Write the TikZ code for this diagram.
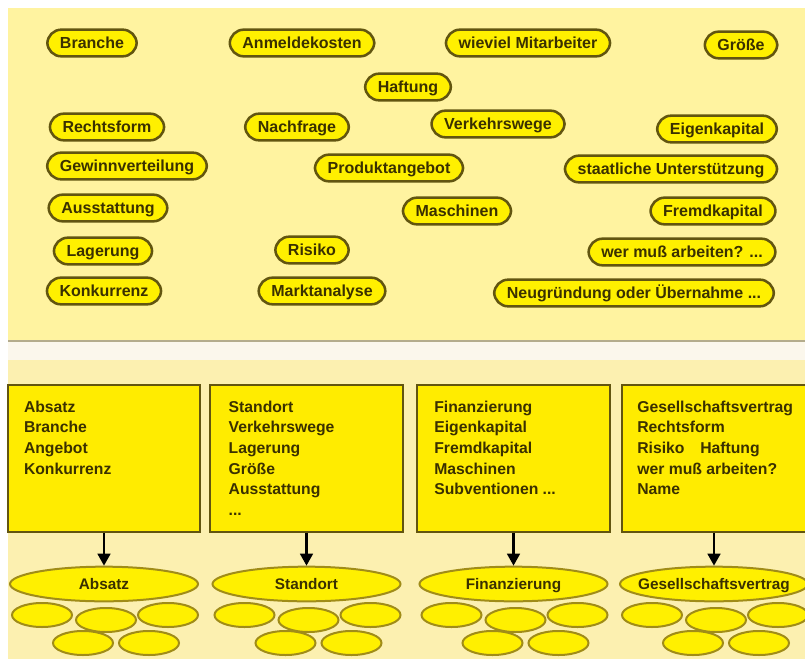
\documentclass[tikz,border=0pt]{standalone}
\usepackage{fontspec}
\setmainfont{Liberation Sans}
\usetikzlibrary{positioning,shapes.geometric,arrows.meta,calc}
\definecolor{paper}{HTML}{FFF3A0}
\definecolor{paperlow}{HTML}{FCF0B0}
\definecolor{band}{HTML}{FBF7EC}
\definecolor{rule}{HTML}{B4AC8C}
\definecolor{lemon}{HTML}{FFF000}
\definecolor{boxfill}{HTML}{FFEC00}
\definecolor{olive}{HTML}{625510}
\definecolor{rim}{HTML}{A08C18}
\definecolor{ink}{HTML}{3A3000}
\tikzset{
  pill/.style={draw=olive, line width=1.9pt, fill=lemon, rounded corners=10.5pt,
    minimum height=20pt, inner xsep=9.5pt, inner ysep=0pt, text=ink,
    text height=8.6pt, text depth=0pt,
    font=\bfseries\fontsize{12}{14}\selectfont},
  infobox/.style={draw=olive, line width=1.4pt, fill=boxfill, inner sep=0pt,
    minimum height=110.25pt},
  boxtext/.style={align=left, inner sep=0pt, text=ink,
    font=\bfseries\fontsize{11.8}{15.4}\selectfont},
  topic/.style={ellipse, draw=rim, line width=1.5pt, fill=lemon,
    minimum width=141pt, minimum height=26pt, inner sep=0pt, text=ink,
    text height=8.2pt, text depth=0pt,
    font=\bfseries\fontsize{11.5}{14}\selectfont},
  blob/.style={ellipse, draw=rim, line width=1.5pt, fill=lemon,
    minimum width=45pt, minimum height=18pt, inner sep=0pt},
  arr/.style={line width=1.9pt, -{Triangle[length=9pt,width=9.5pt]}}
}

\begin{document}
\begin{tikzpicture}[x=0.75pt, y=-0.75pt]
  %%%%% START %%%%%
  \useasboundingbox (0, 0) rectangle (805, 659);

  \fill[paper] (8, 8) rectangle (805, 340);
  \fill[band] (8, 342) rectangle (805, 360);
  \fill[paperlow] (8, 360) rectangle (805, 659);
  \draw[line width=1.5pt, color=rule] (8, 341) -- (805, 341);

  % keywords
  \node[pill] (branche) at (92, 43) {Branche};
  \node[pill] (anmeldung) at (302, 43) {Anmeldekosten};
  \node[pill] (mitarbeiter) at (528, 43) {wieviel Mitarbeiter};
  \node[pill] (groesse) at (741, 45) {Größe};
  \node[pill] (haftung) at (408, 87) {Haftung};
  \node[pill] (rechtsform) at (107, 127) {Rechtsform};
  \node[pill] (nachfrage) at (297, 127) {Nachfrage};
  \node[pill] (verkehr) at (498, 124) {Verkehrswege};
  \node[pill] (eigenkap) at (717, 129) {Eigenkapital};
  \node[pill] (gewinn) at (127, 166) {Gewinnverteilung};
  \node[pill] (produkt) at (389, 168) {Produktangebot};
  \node[pill] (staat) at (671, 169) {staatliche Unterstützung};
  \node[pill] (ausstattung) at (108, 208) {Ausstattung};
  \node[pill] (maschinen) at (457, 211) {Maschinen};
  \node[pill] (fremdkap) at (713, 211) {Fremdkapital};
  \node[pill] (lagerung) at (103, 251) {Lagerung};
  \node[pill] (risiko) at (312, 250) {Risiko};
  \node[pill] (arbeit) at (682, 252) {wer muß arbeiten? ...};
  \node[pill] (konkurrenz) at (104, 291) {Konkurrenz};
  \node[pill] (markt) at (322, 291) {Marktanalyse};
  \node[pill] (neu) at (634, 293) {Neugründung oder Übernahme ...};

  % boxes
  \node[infobox, minimum width=144pt] (box1) at (104, 458.5) {};
  \node[infobox, minimum width=144.75pt] (box2) at (306.5, 458.5) {};
  \node[infobox, minimum width=144.75pt] (box3) at (513.5, 458.5) {};
  \node[infobox, minimum width=138pt] (box4) at (714, 458.5) {};

  \node[boxtext, below right=12.5pt and 12.5pt of box1.north west] (list1)
    {Absatz\\Branche\\Angebot\\Konkurrenz};
  \node[boxtext, below right=12.5pt and 14.5pt of box2.north west] (list2)
    {Standort\\Verkehrswege\\Lagerung\\Größe\\Ausstattung\\...};
  \node[boxtext, below right=12.5pt and 13.5pt of box3.north west] (list3)
    {Finanzierung\\Eigenkapital\\Fremdkapital\\Maschinen\\Subventionen ...};
  \node[boxtext, below right=12.5pt and 12pt of box4.north west] (list4)
    {Gesellschaftsvertrag\\Rechtsform\\Risiko\quad Haftung\\wer muß arbeiten?\\Name};

  % topics
  \node[topic] (absatz) at (104, 584) {Absatz};
  \node[topic] (standort) at (306.5, 584) {Standort};
  \node[topic] (finanz) at (513.5, 584) {Finanzierung};
  \node[topic] (gesell) at (714, 584) {\makebox[0pt]{Gesellschaftsvertrag}};

  \foreach \g in {absatz, standort, finanz, gesell} {
    \node[blob] (\g-1) at ($(\g)+(-62, 31)$) {};
    \node[blob] (\g-2) at ($(\g)+(2, 36)$) {};
    \node[blob] (\g-3) at ($(\g)+(64, 31)$) {};
    \node[blob] (\g-4) at ($(\g)+(-21, 59)$) {};
    \node[blob] (\g-5) at ($(\g)+(45, 59)$) {};
  }

  \draw[arr] (box1) -- (absatz);
  \draw[arr] (box2) -- (standort);
  \draw[arr] (box3) -- (finanz);
  \draw[arr] (box4) -- (gesell);
  %%%%% END %%%%%
\end{tikzpicture}
\end{document}
